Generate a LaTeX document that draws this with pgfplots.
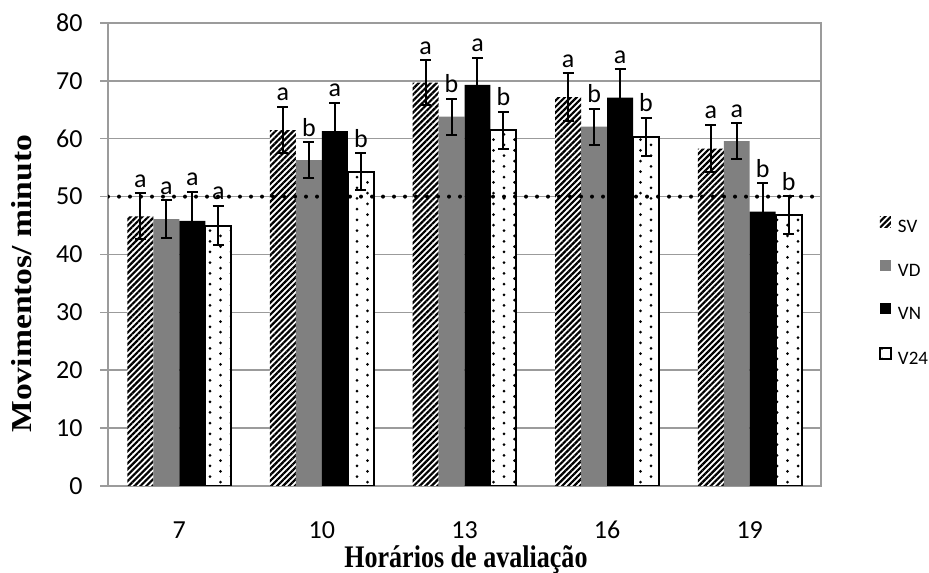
\documentclass[border=0pt]{standalone}
\usepackage{fontspec}
\setmainfont{Carlito}
\newfontfamily\tnr{Liberation Serif}
\usepackage{graphicx}
\usepackage{pgfplots}
\pgfplotsset{compat=1.18}
\usetikzlibrary{patterns,patterns.meta}
\definecolor{gridc}{RGB}{155,155,155}
\definecolor{vdgray}{RGB}{128,128,128}
\pgfdeclarepatternformonly{v24dots}{\pgfqpoint{-1pt}{-1pt}}{\pgfqpoint{11.5pt}{6.35pt}}{\pgfqpoint{10.5pt}{5.35pt}}{%
  \pgfpathcircle{\pgfqpoint{0pt}{0pt}}{0.75pt}%
  \pgfpathcircle{\pgfqpoint{5.25pt}{2.675pt}}{0.75pt}%
  \pgfusepath{fill}}
\pgfplotsset{
  sqleg/.style={legend image code/.code={\path[##1] (0pt,0.25pt) rectangle (5.5pt,5.75pt);}},
  errstyle/.style={error bars/.cd, y dir=both, y explicit,
     error bar style={black, line width=1pt},
     error mark options={rotate=90, black, mark size=2.75pt, line width=1pt}},
  lab/.style={draw=none, mark=none, forget plot, nodes near coords,
     point meta=explicit symbolic,
     nodes near coords style={anchor=base, yshift=3pt, font=\fontsize{13}{15}\selectfont, inner sep=0pt, text=black}},
}
\begin{document}
\begin{tikzpicture}
\begin{axis}[name=ax, scale only axis, width=356.5pt, height=231.5pt,
  xmin=-0.5, xmax=4.5, ymin=0, ymax=80,
  ytick={0,10,...,80}, xtick={0,1,2,3,4}, xticklabels={7,10,13,16,19},
  ymajorgrids, grid style={gridc, line width=0.75pt},
  axis line style={gridc, line width=0.75pt},
  tick align=outside, major tick length=4pt,
  ytick pos=left, xtick pos=bottom,
  ytick style={gridc, line width=0.75pt},
  xtick style={draw=none},
  tick label style={font=\fontsize{13}{15}\selectfont, inner sep=0pt},
  /pgf/number format/assume math mode=true,
  yticklabel style={xshift=-8.5pt},
  xticklabel style={yshift=-13.5pt},
  xlabel={\scalebox{0.83}[1]{\tnr\bfseries Horários de avaliação}},
  xlabel style={at={(axis description cs:0.502,-0.175)}, anchor=base, inner sep=0pt, font=\fontsize{15.7}{17}\selectfont},
  ylabel={\scalebox{1}[0.86]{\tnr\bfseries Movimentos/ minuto}},
  ylabel style={at={(axis description cs:-0.1066,0.437)}, rotate=0, anchor=base, inner sep=0pt, font=\fontsize{16.8}{18}\selectfont},
  legend style={at={(axis description cs:1.0813,0.583)}, anchor=north west, draw=none, fill=none,
     inner sep=0pt, outer sep=0pt, font=\fontsize{9.5}{11}\selectfont,
     row sep=11.5pt, column sep=3pt, nodes={inner sep=0pt, text height=7pt, text depth=2pt}},
  legend cell align=left,
]
% SV
\addplot[ybar, bar width=0.182, bar shift=0pt, draw=none, fill=white,
  postaction={pattern={Lines[angle=45,distance=2.1pt,line width=1.1pt]}}, sqleg, errstyle]
  coordinates {(-0.273,46.6) +- (0,4.0) (0.727,61.5) +- (0,4.0) (1.727,69.7) +- (0,3.9) (2.727,67.2) +- (0,4.1) (3.727,58.3) +- (0,4.1)};
\addlegendentry{SV}
% VD
\addplot[ybar, bar width=0.182, bar shift=0pt, draw=none, fill=vdgray, sqleg, errstyle]
  coordinates {(-0.091,46.1) +- (0,3.3) (0.909,56.3) +- (0,3.1) (1.909,63.8) +- (0,3.1) (2.909,62.1) +- (0,3.1) (3.909,59.6) +- (0,3.1)};
\addlegendentry{VD}
% VN
\addplot[ybar, bar width=0.182, bar shift=0pt, draw=none, fill=black, sqleg, errstyle]
  coordinates {(0.091,45.8) +- (0,5.0) (1.091,61.3) +- (0,4.9) (2.091,69.3) +- (0,4.7) (3.091,67.1) +- (0,4.9) (4.091,47.4) +- (0,4.9)};
\addlegendentry{VN}
% V24
\addplot[ybar, bar width=0.182, bar shift=0pt, draw=black, line width=1pt, fill=white,
  postaction={pattern=v24dots}, sqleg, errstyle]
  coordinates {(0.273,45.0) +- (0,3.4) (1.273,54.3) +- (0,3.2) (2.273,61.5) +- (0,3.2) (3.273,60.3) +- (0,3.3) (4.273,46.8) +- (0,3.3)};
\addlegendentry{V24}
% letters
\addplot[lab] coordinates {(-0.273,50.6)[a] (0.727,65.5)[a] (1.727,73.6)[a] (2.727,71.3)[a] (3.727,62.4)[a]};
\addplot[lab] coordinates {(-0.091,49.4)[a] (0.909,59.4)[b] (1.909,66.9)[b] (2.909,65.2)[b] (3.909,62.7)[a]};
\addplot[lab] coordinates {(0.091,50.8)[a] (1.091,66.2)[a] (2.091,74.0)[a] (3.091,72.0)[a] (4.091,52.3)[b]};
\addplot[lab] coordinates {(0.273,48.4)[a] (1.273,57.5)[b] (2.273,64.7)[b] (3.273,63.6)[b] (4.273,50.1)[b]};
% reference line
\addplot[black, line width=2pt, dash pattern=on 0pt off 5.5pt, line cap=round, forget plot]
  coordinates {(-0.5,50) (4.5,50)};
\end{axis}
\pgfresetboundingbox
\path ([shift={(-54pt,-43.5pt)}]ax.south west) rectangle ([shift={(54pt,11.5pt)}]ax.north east);
\end{tikzpicture}
\end{document}
